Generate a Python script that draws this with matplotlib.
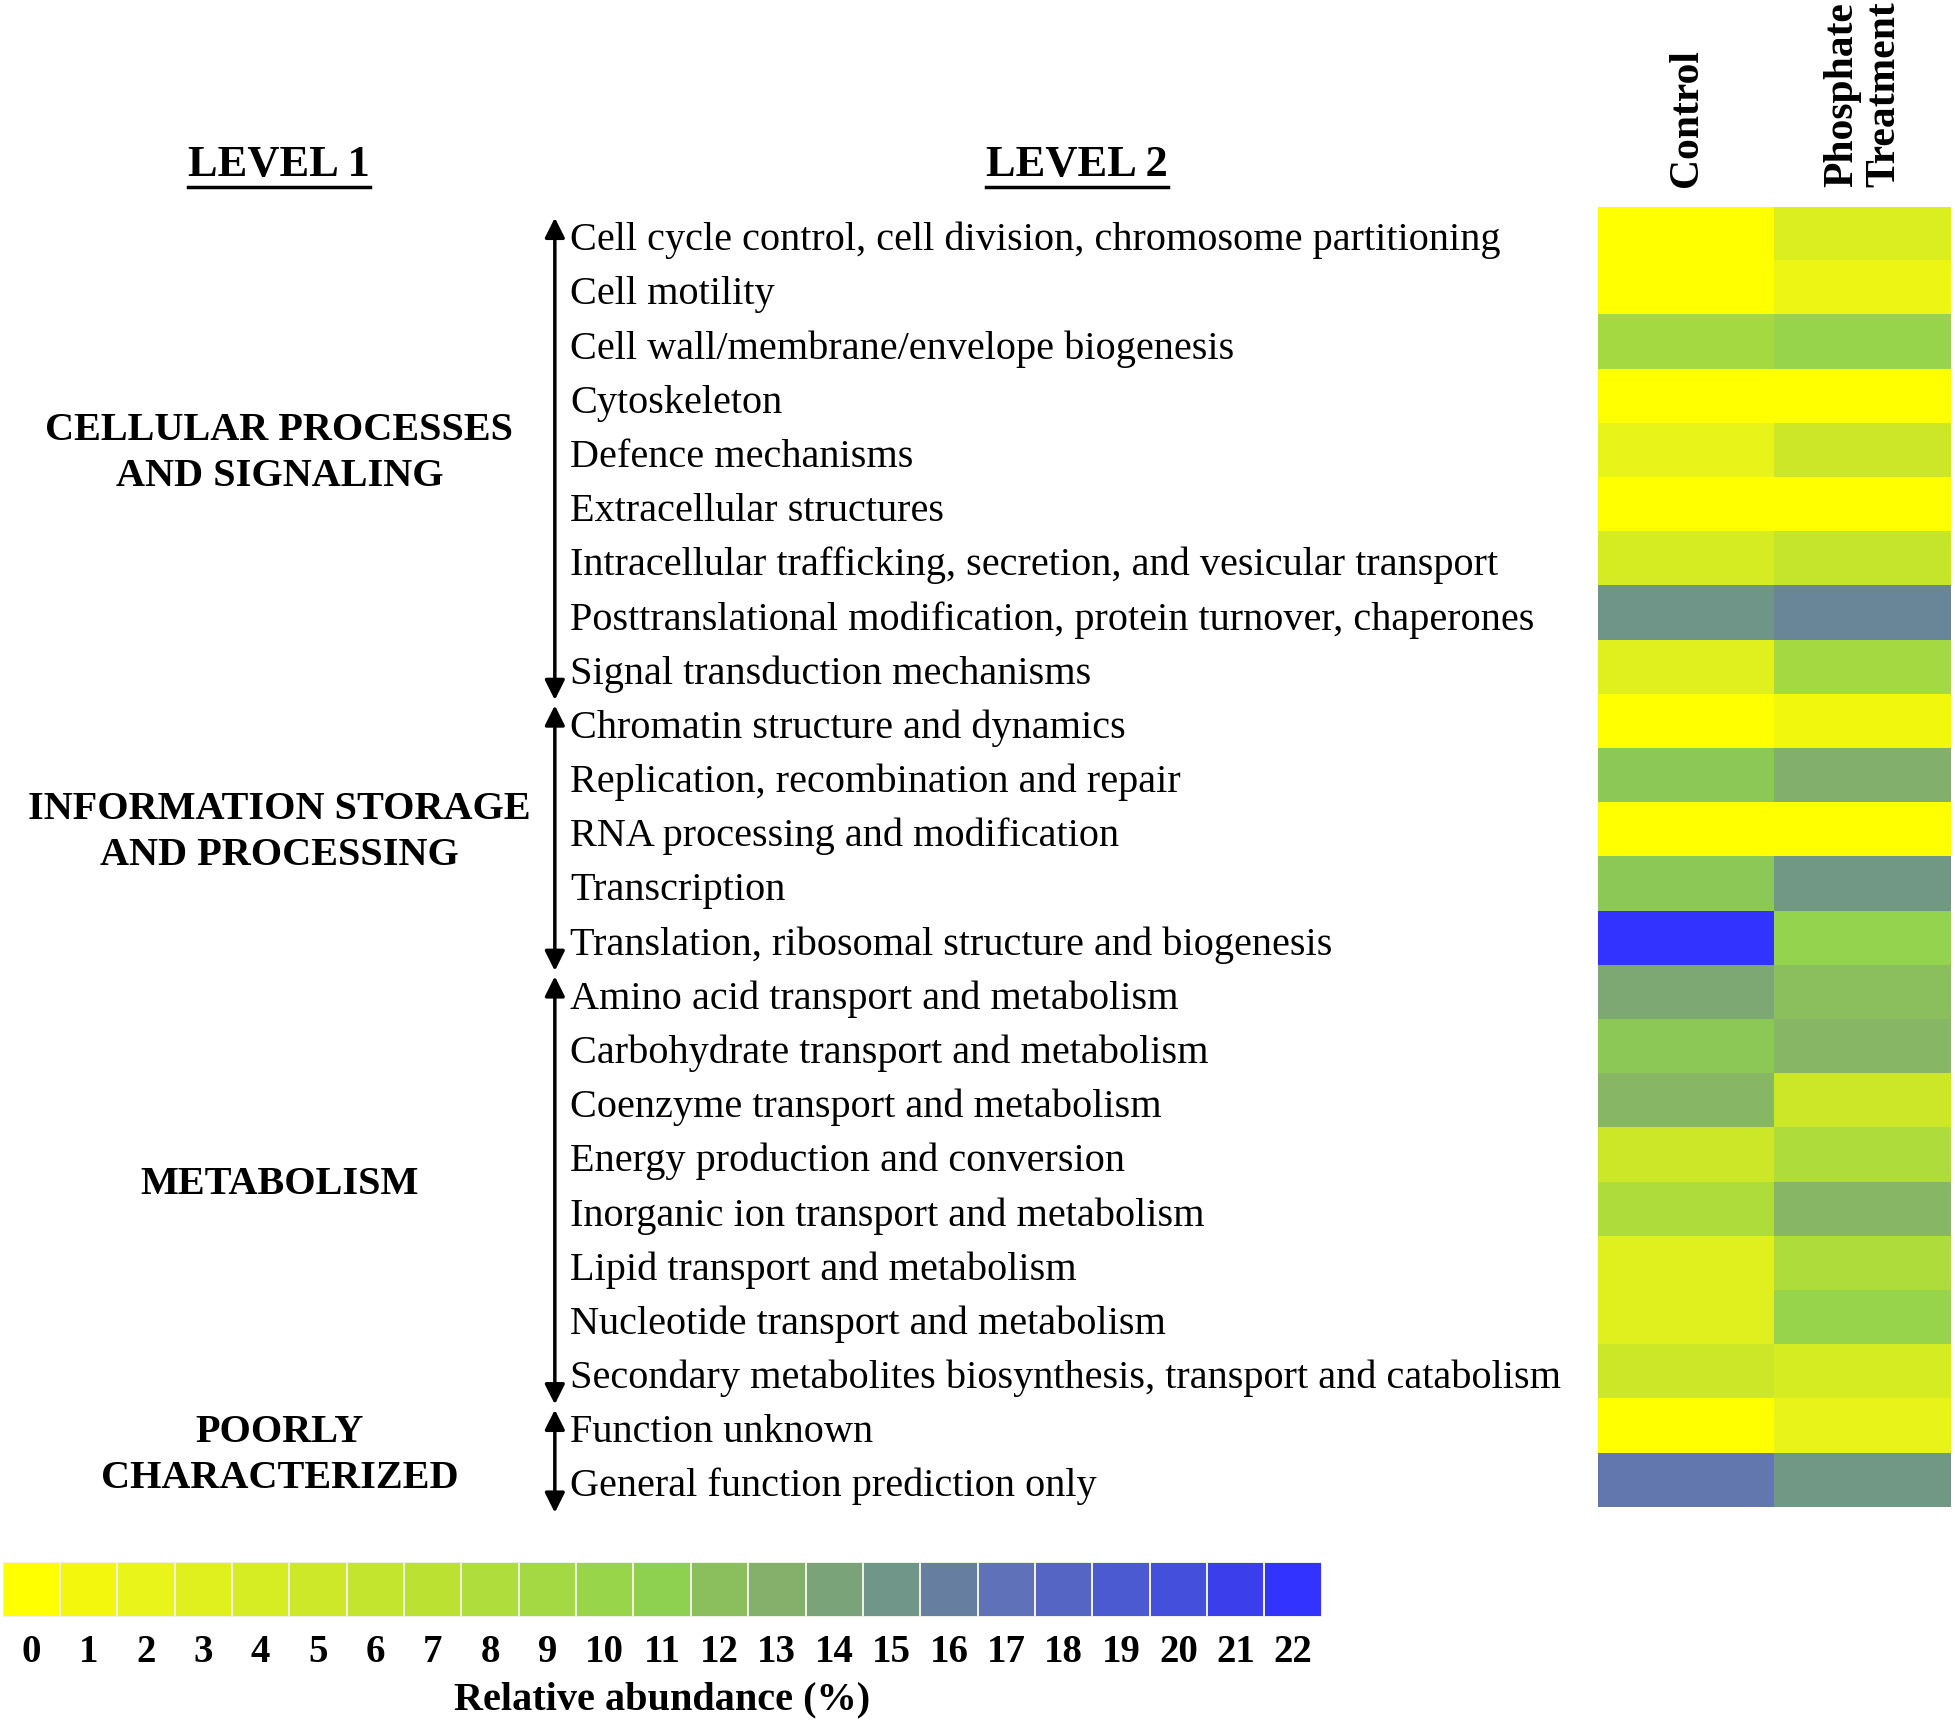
import numpy as np
import matplotlib
matplotlib.use("Agg")
import matplotlib.pyplot as plt
from matplotlib.colors import LinearSegmentedColormap, Normalize
from matplotlib.transforms import blended_transform_factory
from matplotlib.lines import Line2D

plt.rcParams['font.family'] = ['Liberation Serif', 'DejaVu Serif']

# Level 2 categories (COG functional classes)
categories = [
    "Cell cycle control, cell division, chromosome partitioning",
    "Cell motility",
    "Cell wall/membrane/envelope biogenesis",
    "Cytoskeleton",
    "Defence mechanisms",
    "Extracellular structures",
    "Intracellular trafficking, secretion, and vesicular transport",
    "Posttranslational modification, protein turnover, chaperones",
    "Signal transduction mechanisms",
    "Chromatin structure and dynamics",
    "Replication, recombination and repair",
    "RNA processing and modification",
    "Transcription",
    "Translation, ribosomal structure and biogenesis",
    "Amino acid transport and metabolism",
    "Carbohydrate transport and metabolism",
    "Coenzyme transport and metabolism",
    "Energy production and conversion",
    "Inorganic ion transport and metabolism",
    "Lipid transport and metabolism",
    "Nucleotide transport and metabolism",
    "Secondary metabolites biosynthesis, transport and catabolism",
    "Function unknown",
    "General function prediction only",
]

# Level 1 groups: (label, first row, last row)
groups = [
    ("CELLULAR PROCESSES\nAND SIGNALING", 0, 8),
    ("INFORMATION STORAGE\nAND PROCESSING", 9, 13),
    ("METABOLISM", 14, 21),
    ("POORLY\nCHARACTERIZED", 22, 23),
]

conditions = ["Control", "Phosphate\nTreatment"]

# relative abundance (%)
control = [0, 0, 9, 0, 2, 0, 4, 15, 3, 0, 11.5, 0, 11.5, 22,
           13.5, 11.5, 12.5, 5, 8, 3, 3, 5, 0, 16.5]
phosphate = [3.5, 1.5, 10, 0, 5, 0, 6, 15.7, 9, 1, 13, 0, 14.8, 10.5,
             12, 12.5, 5, 8, 12.5, 8, 10, 4, 2, 14.8]

scale_ticks = list(range(23))
# colour of each block of the scale, 0 .. 22
scale_colors = [
    "#ffff00", "#f2f70f", "#e8f41a", "#dff01f", "#d6ec23", "#cde828",
    "#c4e52d", "#bbe233", "#afdd3b", "#a4d943", "#99d54b", "#8ed24f",
    "#8bbf5e", "#84b06c", "#7aa37a", "#6f9688", "#66809f", "#5f71b8",
    "#5565c4", "#4c5bd0", "#4450dc", "#3b40ea", "#3333ff",
]

cmap = LinearSegmentedColormap.from_list("abund", scale_colors)
norm = Normalize(0, 22)

fig = plt.figure(figsize=(19.55, 17.23), dpi=100)

# heatmap
ax = fig.add_axes([0.8176, 0.1252, 0.1805, 0.7547])
data = np.column_stack([control, phosphate])
ax.imshow(data, cmap=cmap, norm=norm, aspect='auto', interpolation='nearest')
ax.set_xticks(range(len(conditions)))
ax.set_xticklabels(conditions, rotation=90, fontsize=30, fontweight='bold',
                   linespacing=1.15, va='bottom')
ax.xaxis.tick_top()
ax.tick_params(axis='x', length=0, pad=14)
ax.set_yticks([])
for s in ax.spines.values():
    s.set_visible(False)

trans = blended_transform_factory(fig.transFigure, ax.transData)

# level 2 labels
for i, name in enumerate(categories):
    ax.text(0.2915, i + 0.12, name, transform=trans, ha='left', va='center',
            fontsize=29)

# level 1 labels and brackets
for label, first, last in groups:
    ax.annotate('', xy=(0.2838, last + 0.6), xytext=(0.2838, first - 0.3),
                xycoords=trans, textcoords=trans, annotation_clip=False,
                arrowprops=dict(arrowstyle='<|-|>', color='black', lw=2.5,
                                mutation_scale=30, shrinkA=0, shrinkB=0))
    ax.text(0.1429, (first + last) / 2 + 0.05, label, transform=trans,
            ha='center', va='center', fontsize=29, fontweight='bold',
            multialignment='center', linespacing=1.32)

# headers
h1 = fig.text(0.1429, 0.904, "LEVEL 1", ha='center', va='center',
              fontsize=32, fontweight='bold')
h2 = fig.text(0.551, 0.904, "LEVEL 2", ha='center', va='center',
              fontsize=32, fontweight='bold')

# colour scale
cax = fig.add_axes([0.0013, 0.0615, 0.6748, 0.0318])
cax.pcolormesh(np.arange(len(scale_ticks) + 1) - 0.5, [0, 1],
               np.array([scale_ticks]), cmap=cmap, norm=norm,
               edgecolor='#f0f0e0', linewidth=0.1)
cax.set_xlim(-0.5, len(scale_ticks) - 0.5)
cax.set_xticks(scale_ticks)
cax.set_xticklabels([str(t) for t in scale_ticks], fontsize=28,
                    fontweight='bold')
cax.tick_params(axis='x', length=0, pad=12)
cax.set_yticks([])
cax.set_xlabel("Relative abundance (%)", fontsize=29, fontweight='bold',
               labelpad=8)
for s in cax.spines.values():
    s.set_visible(False)

# underline the two headers
fig.canvas.draw()
r = fig.canvas.get_renderer()
for h in (h1, h2):
    bb = h.get_window_extent(r).transformed(fig.transFigure.inverted())
    fig.add_artist(Line2D([bb.x0, bb.x1], [bb.y0 - 0.001, bb.y0 - 0.001],
                          transform=fig.transFigure, color='black', lw=2.5))

fig.savefig("out.png", dpi=100)
